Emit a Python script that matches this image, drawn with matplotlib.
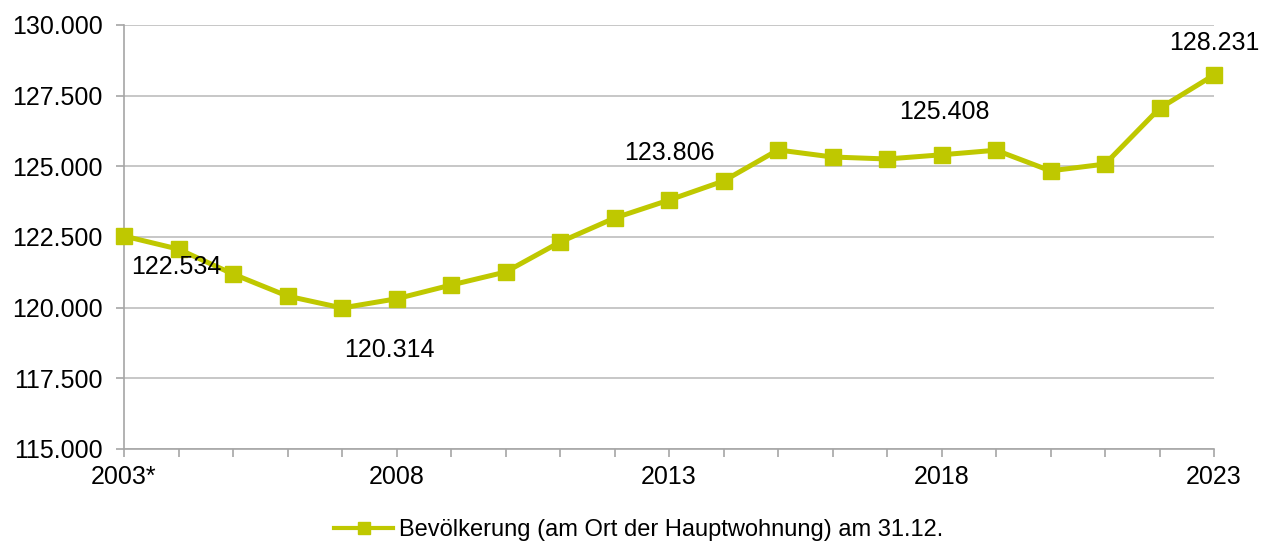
import matplotlib
matplotlib.use("Agg")
import matplotlib.pyplot as plt
from matplotlib.ticker import FuncFormatter, MultipleLocator
from matplotlib.lines import Line2D

plt.rcParams['font.family'] = ['Liberation Sans', 'DejaVu Sans']

years = list(range(2003, 2024))
population = [122534, 122070, 121190, 120410, 119990, 120314, 120800, 121260,
              122320, 123170, 123806, 124480, 125580, 125330, 125260, 125408,
              125570, 124840, 125080, 127050, 128231]
label_years = [2003, 2008, 2013, 2018, 2023]
label_offsets = {2003: (5, -22), 2008: (-5, -37), 2013: (0, 34), 2018: (2, 31), 2023: (0, 23)}
label_ha = {2003: 'left', 2008: 'center', 2013: 'center', 2018: 'center', 2023: 'center'}
xtick_years = [2003, 2008, 2013, 2018, 2023]
xtick_labels = ['2003*', '2008', '2013', '2018', '2023']
series_name = 'Bevölkerung (am Ort der Hauptwohnung) am 31.12.'

color = '#BFC800'
grey = '#A6A6A6'

fig = plt.figure(figsize=(12.78, 5.46), dpi=100)
ax = fig.add_axes([124/1278, 1-449/546, (1214-124)/1278, (449-25)/546])

ax.plot(years, population, color=color, lw=3.6, marker='s', ms=11,
        mec=color, mfc=color, clip_on=False, zorder=3)

for y in label_years:
    v = population[years.index(y)]
    ax.annotate(f"{v/1000:.3f}", xy=(y, v), xytext=label_offsets[y],
                textcoords='offset points', ha=label_ha[y], va='center',
                fontsize=18, color='black')

ax.set_xlim(2003, 2023)
ax.set_ylim(115000, 130000)
ax.yaxis.set_major_locator(MultipleLocator(2500))
ax.yaxis.set_major_formatter(FuncFormatter(lambda v, p: f"{v/1000:.3f}"))
ax.set_xticks(years)
ax.set_xticklabels([xtick_labels[xtick_years.index(y)] if y in xtick_years else '' for y in years])
ax.grid(axis='y', color='#BDBDBD', lw=1.2, zorder=0)
ax.set_axisbelow(True)
for s in ['top', 'right']:
    ax.spines[s].set_visible(False)
for s in ['left', 'bottom']:
    ax.spines[s].set_color(grey)
    ax.spines[s].set_linewidth(1.2)
ax.tick_params(axis='both', colors=grey, labelcolor='black', labelsize=18,
               direction='out', length=5.5, width=1.2)
ax.tick_params(axis='y', pad=10)
ax.tick_params(axis='x', pad=6)

handle = Line2D([], [], color=color, lw=3, marker='s', ms=9, mec=color, mfc=color)
fig.legend(handles=[handle], labels=[series_name], loc='center',
           bbox_to_anchor=(0.5, 1-530/546), frameon=False, fontsize=17,
           handlelength=2.5, handletextpad=0.25)

fig.savefig('out.png', dpi=100)
